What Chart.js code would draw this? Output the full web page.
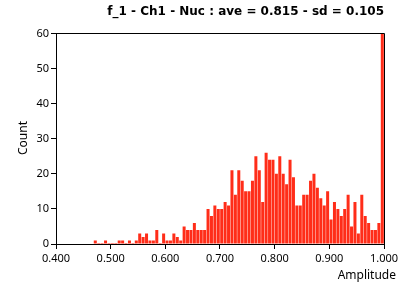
<!DOCTYPE html>
<html>
<head>
<meta charset="utf-8">
<script src="https://cdn.jsdelivr.net/npm/chart.js@4.4.1/dist/chart.umd.min.js"></script>
<style>
  html, body { margin: 0; padding: 0; background: #fff; }
</style>
</head>
<body>
<canvas id="histogram" width="408" height="287"></canvas>
<script>
// histogram bins are 0.00625 wide, the first filled one starts at 0.46875
const firstBin = 0.46875;
const binWidth = 0.00625;
const counts = [
  1, 0, 0, 1, 0, 0, 0, 1, 1, 0,
  1, 0, 1, 3, 2, 3, 1, 1, 4, 0,
  3, 1, 1, 3, 2, 1, 5, 4, 4, 6,
  4, 4, 4, 10, 8, 11, 10, 10, 12, 11,
  21, 14, 21, 18, 15, 15, 18, 25, 21, 12,
  26, 24, 24, 20, 25, 20, 17, 24, 19, 11,
  11, 14, 14, 18, 20, 16, 13, 11, 15, 7,
  12, 10, 8, 10, 14, 5, 12, 3, 14, 8,
  6, 4, 4, 6, 60,
];
const xTicks = [0.4, 0.5, 0.6, 0.7, 0.8, 0.9, 1.0];
const yTicks = [0, 10, 20, 30, 40, 50, 60];

const tickFont = { family: "Noto Sans", size: 11 };

// box around the plot + axis titles
const frame = {
  id: "frame",
  afterDraw(chart) {
    const ctx = chart.ctx;
    const a = chart.chartArea;
    ctx.save();
    ctx.strokeStyle = "#000";
    ctx.lineWidth = 1;
    ctx.beginPath();
    ctx.moveTo(Math.round(a.left), Math.round(a.top) + 0.5);
    ctx.lineTo(Math.round(a.right) + 0.5, Math.round(a.top) + 0.5);
    ctx.lineTo(Math.round(a.right) + 0.5, Math.round(a.bottom));
    ctx.stroke();

    ctx.fillStyle = "#000";
    ctx.font = "12px 'Noto Sans'";
    ctx.textAlign = "right";
    ctx.textBaseline = "middle";
    ctx.fillText("Amplitude", 396, 276);

    ctx.translate(24, 138);
    ctx.rotate(-Math.PI / 2);
    ctx.textAlign = "center";
    ctx.fillText("Count", 0, 0);
    ctx.restore();
  },
};

const chart = new Chart("histogram", {
  type: "bar",
  data: {
    datasets: [
      {
        data: counts.map((c, i) => ({ x: firstBin + (i + 0.5) * binWidth, y: c })),
        backgroundColor: "rgb(255, 45, 25)",
        borderWidth: 0,
        barPercentage: 0.88,
        categoryPercentage: 1,
        minBarLength: 1,
      },
    ],
  },
  options: {
    responsive: false,
    animation: false,
    layout: { padding: { top: 0, right: 24, bottom: 0, left: 0 } },
    plugins: {
      legend: { display: false },
      tooltip: { enabled: false },
      title: {
        display: true,
        text: "f_1 - Ch1 - Nuc : ave = 0.815 - sd = 0.105",
        align: "end",
        color: "#000",
        font: { family: "DejaVu Sans", size: 12, weight: "bold", lineHeight: 1.2 },
        padding: { top: 5, bottom: 14 },
      },
    },
    scales: {
      x: {
        type: "linear",
        min: xTicks[0],
        max: xTicks[xTicks.length - 1],
        offset: false,
        grid: { drawOnChartArea: false, tickLength: 5, color: "#000", offset: false },
        border: { color: "#000" },
        afterBuildTicks: (s) => { s.ticks = xTicks.map((v) => ({ value: v })); },
        ticks: {
          autoSkip: false,
          maxRotation: 0,
          color: "#000",
          padding: 3,
          font: tickFont,
          callback: (v) => Number(v).toFixed(3),
        },
        afterFit: (s) => { s.height = 43; },
      },
      y: {
        min: yTicks[0],
        max: yTicks[yTicks.length - 1],
        grid: { drawOnChartArea: false, tickLength: 5, color: "#000" },
        border: { color: "#000" },
        afterBuildTicks: (s) => { s.ticks = yTicks.map((v) => ({ value: v })); },
        ticks: { color: "#000", padding: 2, font: tickFont },
        afterFit: (s) => { s.width = 56; },
      },
    },
  },
  plugins: [frame],
});
</script>
</body>
</html>
